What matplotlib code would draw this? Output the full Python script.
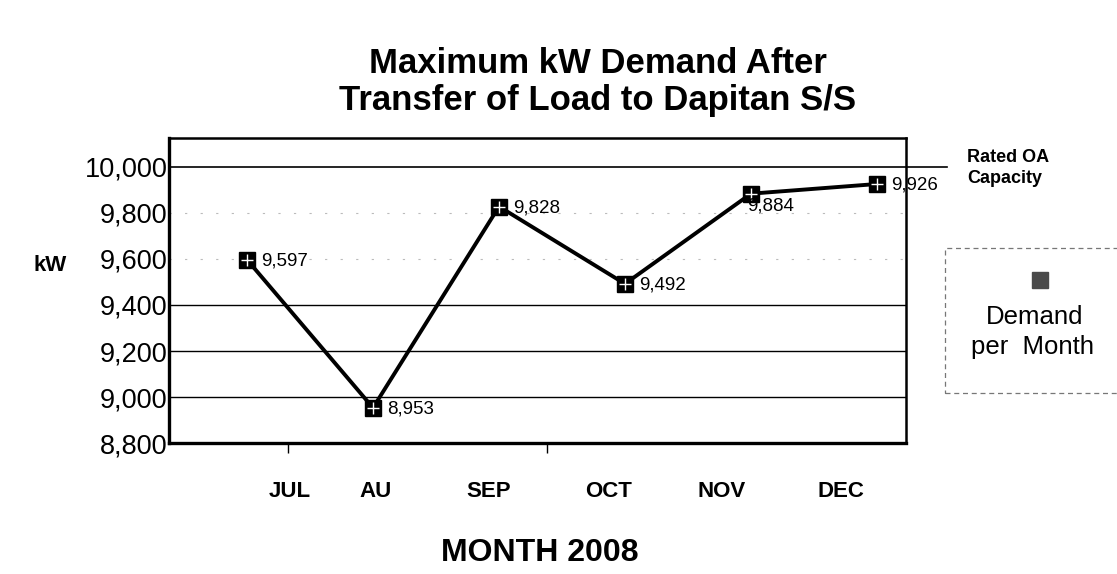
import matplotlib
matplotlib.use("Agg")
import matplotlib.pyplot as plt
from matplotlib.patches import Rectangle

# --- data ---
months = ["JUL", "AU", "SEP", "OCT", "NOV", "DEC"]
demand_kw = [9597, 8953, 9828, 9492, 9884, 9926]
rated_capacity_kw = 10000
y_ticks = [8800, 9000, 9200, 9400, 9600, 9800, 10000]
solid_grid = [9000, 9200, 9400]
faint_grid = [9600, 9800]

plt.rcParams["font.family"] = ["Liberation Sans", "DejaVu Sans"]

fig = plt.figure(figsize=(11.17, 5.74), dpi=100)
ax = fig.add_axes([0.1513, 0.2282, 0.6598, 0.5314])

x = list(range(len(months)))

# gridlines
for g in solid_grid:
    ax.axhline(g, color="black", lw=1.0, zorder=1)
for g in faint_grid:
    ax.axhline(g, color="#bbbbbb", lw=0.8, ls=(0, (2, 12)), zorder=1)
# rated OA capacity line runs past the frame
ax.axhline(rated_capacity_kw, xmin=0, xmax=1.056, color="black", lw=1.2,
           clip_on=False, zorder=1)

# demand line + markers
ax.plot(x, demand_kw, color="black", lw=2.8, zorder=3)
ax.plot(x, demand_kw, ls="none", marker="s", ms=11, color="black", zorder=4)
ax.plot(x, demand_kw, ls="none", marker="+", ms=9, mew=1.0, color="white", zorder=5)

# value labels
for i, v in enumerate(demand_kw):
    if months[i] == "NOV":
        ax.annotate(f"{v:,}", (i, v), xytext=(-3, -9), textcoords="offset points",
                    ha="left", va="center", fontsize=13.5, zorder=6)
    else:
        ax.annotate(f"{v:,}", (i, v), xytext=(10, -1), textcoords="offset points",
                    ha="left", va="center", fontsize=13.5, zorder=6)

ax.set_xlim(-0.619, 5.23)
ax.set_ylim(8800, 10126)

# y axis
ax.set_yticks(y_ticks)
ax.set_yticklabels([f"{t:,}" for t in y_ticks], fontsize=19.5)
ax.tick_params(axis="y", length=0, pad=1)

# x axis: category labels sit a bit off the data points, as in the original
label_pos = [0.34, 1.02, 1.92, 2.87, 3.77, 4.71]
ax.set_xticks(label_pos)
ax.set_xticklabels(months, fontsize=16, fontweight="bold")
ax.tick_params(axis="x", which="major", length=0, pad=27)
ax.set_xticks([0.325, 2.38], minor=True)
ax.tick_params(axis="x", which="minor", length=7, width=1, direction="out")

for side in ["left", "bottom"]:
    ax.spines[side].set_linewidth(2.4)
for side in ["top", "right"]:
    ax.spines[side].set_linewidth(1.8)

# titles and axis labels
fig.text(0.535, 0.857, "Maximum kW Demand After\nTransfer of Load to Dapitan S/S",
         ha="center", va="center", fontsize=25, fontweight="bold", linespacing=1.15)
fig.text(0.045, 0.538, "kW", ha="center", va="center", fontsize=16, fontweight="bold")
fig.text(0.483, 0.037, "MONTH 2008", ha="center", va="center", fontsize=23,
         fontweight="bold")

# rated capacity note
fig.text(0.866, 0.707, "Rated OA\nCapacity", ha="left", va="center", fontsize=13,
         fontweight="bold", linespacing=1.35)

# legend box (drawn by hand, it runs off the right edge)
fig.patches.append(Rectangle((0.846, 0.315), 0.17, 0.2526, transform=fig.transFigure,
                             fill=False, ec="#777777", lw=0.9, ls=(0, (4, 3))))
fig.lines.append(plt.Line2D([0.931], [0.512], transform=fig.transFigure, marker="s",
                            ms=12, color="#4a4a4a", ls="none"))
fig.text(0.926, 0.448, "Demand", ha="center", va="center", fontsize=18.5)
fig.text(0.924, 0.395, "per  Month", ha="center", va="center", fontsize=18.5)

fig.savefig("out.png", dpi=100)
